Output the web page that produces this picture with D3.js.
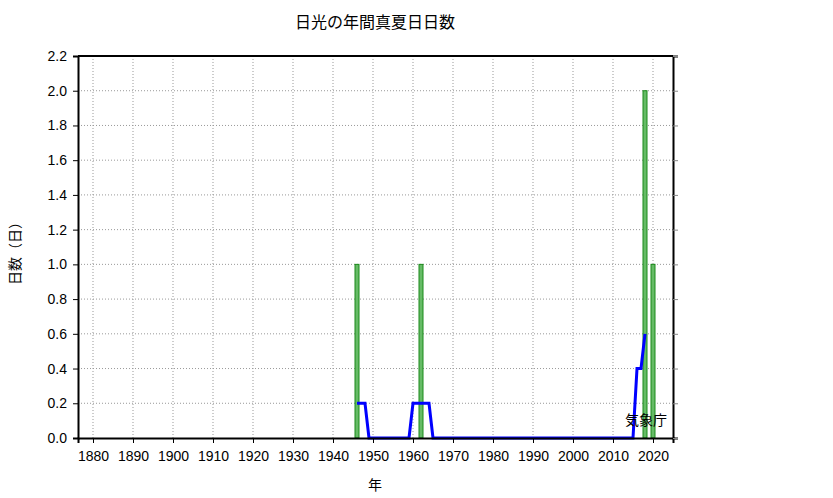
<!DOCTYPE html><html><head><meta charset="utf-8"><script src="https://cdn.jsdelivr.net/npm/d3@7"></script>
<style>body{margin:0;background:#fff}text{font-family:"Noto Sans CJK JP","DejaVu Sans",sans-serif}</style></head><body><svg id="c" width="833" height="498"></svg><script>
const barYears=[1946,1962,2018,2020];
const barValues=[1,1,2,1];
const avgYears=[1946,1947,1948,1949,1959,1960,1961,1962,1963,1964,1965,2015,2016,2017,2018];
const avgValues=[0.2,0.2,0.2,0,0,0.2,0.2,0.2,0.2,0.2,0,0,0.4,0.4,0.6];
const xTicks=[1880,1890,1900,1910,1920,1930,1940,1950,1960,1970,1980,1990,2000,2010,2020];
const yTicks=[0,0.2,0.4,0.6,0.8,1.0,1.2,1.4,1.6,1.8,2.0,2.2];
const svg=d3.select("#c");
const L=78,R=673,T=56,B=438;
const x=d3.scaleLinear().domain([1876.25,2025]).range([L,R]);
const y=d3.scaleLinear().domain([0,2.2]).range([B,T]);
const g=svg.append("g");
g.selectAll(".gx").data(xTicks).join("line").attr("x1",d=>x(d)).attr("x2",d=>x(d)).attr("y1",T).attr("y2",B).attr("stroke","#999").attr("stroke-dasharray","1,2");
g.selectAll(".gy").data(yTicks.slice(1)).join("line").attr("x1",L).attr("x2",R).attr("y1",d=>y(d)).attr("y2",d=>y(d)).attr("stroke","#999").attr("stroke-dasharray","1,2");
g.selectAll("rect.b").data(barYears).join("rect").attr("x",(d)=>x(d)-2).attr("width",4).attr("y",(d,i)=>y(barValues[i])).attr("height",(d,i)=>B-y(barValues[i])).attr("fill","#66bb66").attr("stroke","#1a8a1a").attr("stroke-width",1);
const pts=avgYears.map((d,i)=>[d,avgValues[i]]);
g.append("path").attr("d",d3.line().x(d=>x(d[0])).y(d=>y(d[1]))(pts)).attr("fill","none").attr("stroke","#0000ff").attr("stroke-width",3);
const ax=svg.append("g").attr("transform",`translate(0,${B})`).call(d3.axisBottom(x).tickValues(xTicks).tickFormat(d3.format("d")).tickSizeOuter(0).tickSize(5).tickPadding(8));
const ay=svg.append("g").attr("transform",`translate(${L},0)`).call(d3.axisLeft(y).tickValues(yTicks).tickFormat(d3.format(".1f")).tickSizeOuter(0).tickSize(5).tickPadding(6));
const ar=svg.append("g").attr("transform",`translate(${R},0)`).call(d3.axisRight(y).tickValues(yTicks).tickFormat("").tickSizeOuter(0).tickSize(5));
[ax,ay,ar].forEach(a=>{a.selectAll("text").attr("font-size",14).attr("fill","#000").style("font-family","'Liberation Sans',sans-serif");a.select(".domain").attr("stroke","#000").attr("stroke-width",2);});
ar.selectAll("line").attr("stroke","#888");
svg.append("line").attr("x1",L).attr("x2",R).attr("y1",T).attr("y2",T).attr("stroke","#000").attr("stroke-width",2);
svg.append("text").attr("x",375).attr("y",28).attr("text-anchor","middle").attr("font-size",16).text("日光の年間真夏日日数");
svg.append("text").attr("transform","translate(20,250) rotate(-90)").attr("text-anchor","middle").attr("font-size",14).text("日数（日）");
svg.append("text").attr("x",375).attr("y",490).attr("text-anchor","middle").attr("font-size",14).text("年");
svg.append("text").attr("x",646).attr("y",425).attr("text-anchor","middle").attr("font-size",14).text("気象庁");
</script></body></html>
